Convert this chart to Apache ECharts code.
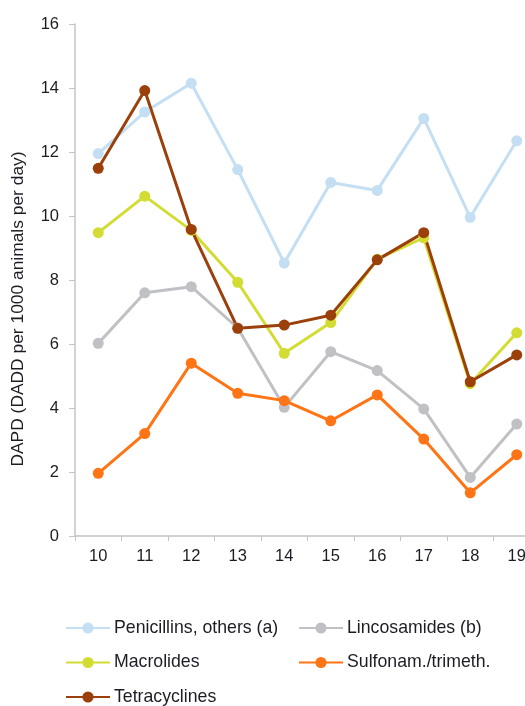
<!DOCTYPE html>
<html>
<head>
<meta charset="utf-8">
<script src="https://cdn.jsdelivr.net/npm/echarts@6/dist/echarts.min.js"></script>
<style>
html, body { margin: 0; padding: 0; background: #fff; overflow: hidden; width: 525px; height: 706px; }
/* plot area runs slightly past the right page edge */
#chart { width: 540px; height: 706px; }
</style>
</head>
<body>
<div id="chart"></div>
<script>
// Years (20xx) on the category axis
const years = ['10', '11', '12', '13', '14', '15', '16', '17', '18', '19'];

// DAPD values per antimicrobial class
const penicillins    = [11.95, 13.25, 14.15, 11.45, 8.53, 11.05, 10.8, 13.05, 9.96, 12.35];
const lincosamides   = [6.02, 7.6, 7.79, 6.5, 4.02, 5.76, 5.17, 3.97, 1.83, 3.5];
const macrolides     = [9.48, 10.62, 9.55, 7.93, 5.71, 6.67, 8.65, 9.32, 4.76, 6.35];
const sulfonamides   = [1.96, 3.2, 5.4, 4.46, 4.23, 3.6, 4.41, 3.03, 1.35, 2.54];
const tetracyclines  = [11.49, 13.92, 9.58, 6.49, 6.59, 6.9, 8.63, 9.48, 4.82, 5.66];

const yTicks = { min: 0, max: 16, step: 2 };

const seriesDefs = [
  { name: 'Penicillins, others (a)', data: penicillins, color: '#c4def4' },
  { name: 'Lincosamides (b)', data: lincosamides, color: '#c0c1c4' },
  { name: 'Macrolides', data: macrolides, color: '#d3dc33' },
  { name: 'Sulfonam./trimeth.', data: sulfonamides, color: '#ff7414' },
  { name: 'Tetracyclines', data: tetracyclines, color: '#9c400b' }
];

const font = 'Liberation Sans, Arial, sans-serif';
const textColor = '#1c1c24';
const axisColor = '#c4c4c4';

const chart = echarts.init(document.getElementById('chart'), null, { renderer: 'canvas' });

function legendAt(names, left, top) {
  return {
    data: names,
    left: left,
    top: top,
    orient: 'vertical',
    itemGap: 16.5,
    itemWidth: 44,
    itemHeight: 14,
    textStyle: { fontFamily: font, fontSize: 17.7, lineHeight: 18, color: textColor, padding: [0, 0, 0, -1] },
    padding: 0
  };
}

chart.setOption({
  animation: false,
  grid: { left: 75, right: 0, top: 24, bottom: 170, containLabel: false },
  legend: [
    legendAt(['Penicillins, others (a)', 'Macrolides', 'Tetracyclines'], 65, 619),
    legendAt(['Lincosamides (b)', 'Sulfonam./trimeth.'], 298, 619)
  ],
  xAxis: {
    type: 'category',
    data: years,
    boundaryGap: true,
    axisLine: { lineStyle: { color: axisColor, width: 1.5 } },
    axisTick: { show: true, length: 5, lineStyle: { color: axisColor } },
    axisLabel: { fontFamily: font, fontSize: 16.5, color: textColor, margin: 12 }
  },
  yAxis: {
    type: 'value',
    min: yTicks.min,
    max: yTicks.max,
    interval: yTicks.step,
    name: 'DAPD (DADD per 1000 animals per day)',
    nameLocation: 'middle',
    nameGap: 48,
    nameTextStyle: { fontFamily: font, fontSize: 17.4, color: textColor, padding: [0, 58, 0, 0] },
    axisLine: { show: true, lineStyle: { color: axisColor, width: 1.5 } },
    axisTick: { show: true, length: 6, lineStyle: { color: axisColor } },
    splitLine: { show: false },
    axisLabel: { fontFamily: font, fontSize: 16.5, color: textColor, margin: 16 }
  },
  series: seriesDefs.map(s => ({
    name: s.name,
    type: 'line',
    data: s.data,
    symbol: 'circle',
    symbolSize: 11,
    showSymbol: true,
    color: s.color,
    lineStyle: { width: 3, color: s.color },
    itemStyle: { color: s.color }
  }))
});
</script>
</body>
</html>
